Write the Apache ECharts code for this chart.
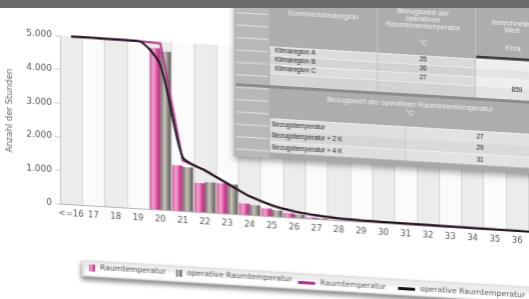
<!DOCTYPE html>
<html>
<head>
<meta charset="utf-8">
<script src="https://cdn.jsdelivr.net/npm/echarts@6/dist/echarts.min.js"></script>
<style>
  html, body { margin: 0; padding: 0; background: #fff; }
  #wrap { position: relative; width: 529px; height: 299px; overflow: hidden; background: #fff; }
  #band { position: absolute; left: 0; top: 0; width: 100%; height: 8px; background: #6a6a6a; z-index: 5; }
  #chart {
    position: absolute; left: 0; top: -40px; width: 560px; height: 380px;
    transform: skewY(3.43deg); transform-origin: 0 0;
    filter: blur(0.3px);
  }
</style>
</head>
<body>
<div id="wrap">
  <div id="chart"></div>
  <div id="band"></div>
</div>
<script>
// chart data
const categories = ['<=16', '17', '18', '19', '20', '21', '22', '23', '24', '25', '26',
  '27', '28', '29', '30', '31', '32', '33', '34', '35', '36', '37']
const roomBars = [0, 0, 0, 0, 4800, 1350, 860, 890, 335, 225, 120, 40, 10, 0, 0, 0, 0, 0, 0, 0, 0, 0]
const operativeBars = [0, 0, 0, 0, 4710, 1310, 900, 880, 300, 190, 100, 30, 10, 0, 0, 0, 0, 0, 0, 0, 0, 0]
const roomLine = [4990, 4990, 4985, 4980, 4950, 1500, 1240, 890, 550, 320, 180, 100, 50, 35, 25, 20, 15, 12, 10, 6, 3, 0]
const operativeLine = [4990, 4990, 4985, 4980, 4300, 1600, 1250, 900, 560, 330, 190, 110, 60, 40, 30, 25, 20, 15, 10, 8, 5, 0]
const yTicks = [0, 1000, 2000, 3000, 4000, 5000]

// table texts
const summerHeader = ['Sommerklimaregion', 'Bezugswert der\noperativen\nRauminnentemperatur', 'berechneter\nWert']
const summerUnits = ['', '°C', 'Kh/a']
const climateRegions = ['Klimaregion A', 'Klimaregion B', 'Klimaregion C']
const regionRefTemps = ['25', '26', '27']
const regionCalcValue = '859'
const refHeader = 'Bezugswert der operativen Rauminnentemperatur'
const refUnit = '°C'
const refRows = ['Bezugstemperatur', 'Bezugstemperatur + 2 K', 'Bezugstemperatur + 4 K']
const refValues = ['27', '29', '31']

const graphics = []
function box(x, y, w, h, fill, z, extra) {
  graphics.push({
    type: 'rect', z: z || 10, silent: true,
    shape: { x: x, y: y, width: w, height: h },
    style: Object.assign({ fill: fill }, extra || {})
  })
}
function label(x, y, text, size, color, align, lineHeight) {
  graphics.push({
    type: 'text', z: 12, silent: true, x: x, y: y,
    style: {
      text: text, fill: color, font: size + 'px "Liberation Sans", Arial, sans-serif',
      align: align || 'center', verticalAlign: 'middle', lineHeight: lineHeight || size + 1
    }
  })
}

// axis name
graphics.push({
  type: 'text', z: 5, silent: true, x: 10, y: 150, rotation: Math.PI / 2,
  style: { text: 'Anzahl der Stunden', fill: '#666', font: '8.5px "DejaVu Sans"', align: 'center', verticalAlign: 'middle' }
})

// legend frame
box(82, 296, 520, 15, '#fff', 1, { stroke: '#d4d4d4', lineWidth: 1, shadowBlur: 5, shadowOffsetY: 3, shadowColor: 'rgba(0,0,0,0.5)' })

// table shadow / base
box(234, 0, 360, 182, '#b5b5b5', 9, { shadowBlur: 6, shadowOffsetY: 3, shadowColor: 'rgba(0,0,0,0.35)' })
// left strip
box(236, 0, 32, 182, '#b8b8b8')
for (let y = 38 - 12.4 * 3; y < 180; y += 12.4) box(236, y, 32, 1, '#e2e2e2', 11)

// table 1: header
box(270, 0, 310, 70, '#adadad')
label(323, 35.6, summerHeader[0], 8, '#f2f2f2')
label(423, 34, summerHeader[1], 7.5, '#f2f2f2', 'center', 7)
label(512, 36.5, summerHeader[2], 7.5, '#f2f2f2', 'center', 7.5)
label(423, 57.9, summerUnits[1], 7.5, '#f2f2f2')
label(513, 57.5, summerUnits[2], 7.5, '#f2f2f2')
// table 1: rows
const rowTop = [70, 79, 88, 97]
const rowH = [9, 9, 9, 12]
rowTop.forEach(function(t, i) {
  box(270, t, 107, rowH[i], i % 2 ? '#d4d4d4' : '#dcdcdc')
  box(378, t, 97, rowH[i], i % 2 ? '#d2d2d2' : '#dadada')
  box(476, t, 104, rowH[i], i % 2 ? '#e4e4e4' : '#eeeeee')
  box(270, t, 310, 0.8, '#f0f0f0', 11)
})
box(476, 67, 104, 2.5, '#3a3a3a', 11)
box(377, 0, 1, 109, '#c6c6c6', 11)
box(475, 0, 1, 109, '#c6c6c6', 11)
climateRegions.forEach(function(name, i) {
  label(275, rowTop[i] + 4.5, name, 6.5, '#222', 'left')
  label(423, rowTop[i] + 4.5, regionRefTemps[i], 6.5, '#222')
})
label(517, 99, regionCalcValue, 6.5, '#222')
box(236, 109, 344, 3, '#8c8c8c', 11)

// table 2
box(270, 112, 310, 30, '#adadad')
label(410, 120.4, refHeader, 7.5, '#f2f2f2')
label(410, 128.7, refUnit, 7.5, '#f2f2f2')
refRows.forEach(function(name, i) {
  const t = 142 + i * 11.5
  box(270, t, 135, 11.5, i % 2 ? '#d6d6d6' : '#dedede')
  box(406, t, 174, 11.5, i % 2 ? '#dadada' : '#e2e2e2')
  box(270, t, 310, 0.8, '#f0f0f0', 11)
  label(272, t + 5.75, name, 6.5, '#222', 'left')
  label(480, t + 5.75, refValues[i], 6.5, '#222')
})
box(405, 142, 1, 34.5, '#c6c6c6', 11)
box(270, 176.5, 310, 5.5, '#a8a8a8')

const pink = new echarts.graphic.LinearGradient(0, 0, 1, 0, [
  { offset: 0, color: '#d5559f' }, { offset: 0.35, color: '#f4a6d2' },
  { offset: 0.7, color: '#d8479b' }, { offset: 1, color: '#b42f7c' }
])
const grey = new echarts.graphic.LinearGradient(0, 0, 1, 0, [
  { offset: 0, color: '#6c6964' }, { offset: 0.4, color: '#c9c6bf' },
  { offset: 0.75, color: '#85827b' }, { offset: 1, color: '#5a5853' }
])
const legendText = { color: '#555', fontSize: 7.7, fontFamily: 'DejaVu Sans' }

const chart = echarts.init(document.getElementById('chart'), null, { renderer: 'canvas' })
chart.setOption({
  animation: false,
  grid: { left: 60, top: 72, width: 490.6, height: 168 },
  legend: [{
    data: [{ name: 'Raumtemperatur', icon: 'rect' }, { name: 'operative Raumtemperatur', icon: 'rect' }],
    left: 89, top: 298.5, padding: 0, itemWidth: 6, itemHeight: 7, itemGap: 10,
    selectedMode: false, textStyle: legendText
  }, {
    data: [{ name: 'Raumtemperatur ', icon: 'rect' }, { name: 'operative Raumtemperatur ', icon: 'rect' }],
    left: 298, top: 300.5, padding: 0, itemWidth: 17, itemHeight: 3, itemGap: 12,
    selectedMode: false, textStyle: legendText,
    formatter: function(name) { return name.trim() }
  }],
  xAxis: {
    type: 'category',
    data: categories,
    axisLine: { lineStyle: { color: '#b5b5b5' } },
    axisTick: { length: 3, lineStyle: { color: '#bbb' } },
    axisLabel: { interval: 0, margin: 5, color: '#555', fontSize: 8.5, fontFamily: 'DejaVu Sans' },
    splitLine: { show: true, lineStyle: { color: '#d6d6d6' } },
    splitArea: { show: true, areaStyle: { color: ['#ececec', '#fbfbfb'] } }
  },
  yAxis: {
    type: 'value',
    min: yTicks[0],
    max: yTicks[yTicks.length - 1],
    interval: yTicks[1] - yTicks[0],
    axisLine: { show: true, lineStyle: { color: '#c8c8c8' } },
    axisTick: { show: true, length: 5, lineStyle: { color: '#c8c8c8' } },
    axisLabel: {
      margin: 8, color: '#555', fontSize: 9, fontFamily: 'DejaVu Sans',
      formatter: function(v) { return String(v).replace(/\B(?=(\d{3})+(?!\d))/g, '.') }
    },
    splitLine: { lineStyle: { color: '#cdcdcd' } }
  },
  series: [
    { name: 'Raumtemperatur', type: 'bar', data: roomBars, barGap: '0%', barCategoryGap: '6%', itemStyle: { color: pink } },
    { name: 'operative Raumtemperatur', type: 'bar', data: operativeBars, itemStyle: { color: grey } },
    {
      name: 'Raumtemperatur ', type: 'line', data: roomLine, symbol: 'none', smooth: false,
      itemStyle: { color: '#b4338f' }, lineStyle: { color: '#b4338f', width: 2 }
    },
    {
      name: 'operative Raumtemperatur ', type: 'line', data: operativeLine, symbol: 'none', smooth: 0.25,
      itemStyle: { color: '#161616' }, lineStyle: { color: '#161616', width: 2 }
    }
  ],
  graphic: graphics
})
</script>
</body>
</html>
